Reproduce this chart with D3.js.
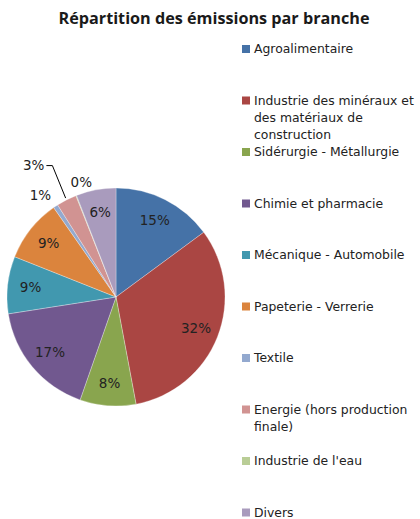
<!DOCTYPE html>
<html>
<head>
<meta charset="utf-8">
<script src="https://cdn.jsdelivr.net/npm/d3@7"></script>
<style>
  body { margin: 0; background: #fff; }
</style>
</head>
<body>
<script>
// Global variable
const w = 420;
const h = 519;

// data (share of emissions, %)
const categories = [
    "Agroalimentaire",
    "Industrie des minéraux et des matériaux de construction",
    "Sidérurgie - Métallurgie",
    "Chimie et pharmacie",
    "Mécanique - Automobile",
    "Papeterie - Verrerie",
    "Textile",
    "Energie (hors production finale)",
    "Industrie de l'eau",
    "Divers"
];
const shares = [14.9, 32.2, 8.3, 17.2, 8.5, 9.3, 0.7, 3.0, 0.1, 5.9];
const colors = ["#4572A7", "#AA4643", "#89A54E", "#71588F", "#4198AF",
                "#DB843D", "#93A9CF", "#D19392", "#B9CD96", "#A99BBD"];

const title = "Répartition des émissions par branche";

// pie geometry
const cx = 116, cy = 297, r = 109;

let svg = d3.select("body")
            .append("svg")
                .attr("width", w)
                .attr("height", h);

svg.append("text")
    .attr("x", 214)
    .attr("y", 24)
    .attr("text-anchor", "middle")
    .style("font-family", "'Open Sans', sans-serif")
    .style("font-weight", "bold")
    .style("font-size", "16.2px")
    .attr("fill", "#1a1a1a")
    .text(title);

let dataset = categories.map((c, i) => ({ name: c, value: shares[i], color: colors[i] }));

const pie = d3.pie().sort(null).value(d => d.value);
const arc = d3.arc().innerRadius(0).outerRadius(r);
const arcs = pie(dataset);

let g = svg.append("g").attr("transform", `translate(${cx},${cy})`);

g.selectAll("path")
    .data(arcs)
    .enter()
    .append("path")
    .attr("d", arc)
    .attr("fill", d => d.data.color)
    .attr("stroke", "#fff")
    .attr("stroke-width", 0.3);

const pct = d => Math.round(d.data.value) + "%";
const mid = d => (d.startAngle + d.endAngle) / 2;
const polar = (a, rr) => [Math.sin(a) * rr, -Math.cos(a) * rr];

// labels outside for the small slices (best fit as in the original)
const outside = {
    "Textile": { rr: 127, da: -0.05 },
    "Energie (hors production finale)": { rr: 146, leader: true },
    "Industrie de l'eau": { rr: 120, da: 0.08 }
};

const labelFont = "'DejaVu Sans', Verdana, sans-serif";

function addLabel(x, y, anchor, d) {
    g.append("text")
        .attr("x", x).attr("y", y)
        .attr("dy", "0.36em")
        .attr("text-anchor", anchor)
        .style("font-family", labelFont)
        .style("font-size", "13.5px")
        .attr("fill", "#222")
        .text(pct(d));
}

arcs.forEach(d => {
    const o = outside[d.data.name];
    if (!o) {
        const p = polar(mid(d), 86);
        addLabel(p[0], p[1], "middle", d);
    } else if (o.leader) {
        const a = mid(d);
        const p1 = polar(a, r + 2);
        const p2 = polar(a + 0.02, o.rr);
        const p3 = [p2[0] - 6, p2[1]];
        g.append("polyline")
            .attr("points", [p1, p2, p3].map(p => p.join(",")).join(" "))
            .attr("fill", "none")
            .attr("stroke", "#000")
            .attr("stroke-width", 1);
        addLabel(p3[0] - 2, p3[1], "end", d);
    } else {
        const p = polar(mid(d) + o.da, o.rr);
        addLabel(p[0], p[1], "middle", d);
    }
});

// legend
const ly = d3.scalePoint().domain(categories).range([49, 512.5]);
const legendFont = "'DejaVu Sans', Tahoma, sans-serif";

let legend = svg.selectAll(".legend")
    .data(dataset)
    .enter()
    .append("g")
    .attr("class", "legend")
    .attr("transform", d => `translate(242, ${ly(d.name)})`);

legend.append("rect")
    .attr("x", 0).attr("y", -4)
    .attr("width", 8).attr("height", 8)
    .attr("fill", d => d.color);

legend.each(function(d) {
    const t = d3.select(this).append("text")
        .attr("x", 12)
        .attr("y", 0)
        .style("font-family", legendFont)
        .style("font-size", "12.4px")
        .attr("fill", "#222");
    // word wrap
    const words = d.name.split(" ");
    let line = [];
    let tspan = t.append("tspan").attr("x", 12).attr("dy", "0.36em");
    words.forEach(word => {
        line.push(word);
        tspan.text(line.join(" "));
        if (tspan.node().getComputedTextLength() > 166 && line.length > 1) {
            line.pop();
            tspan.text(line.join(" "));
            line = [word];
            tspan = t.append("tspan").attr("x", 12).attr("dy", "17px").text(word);
        }
    });
});
</script>
</body>
</html>
